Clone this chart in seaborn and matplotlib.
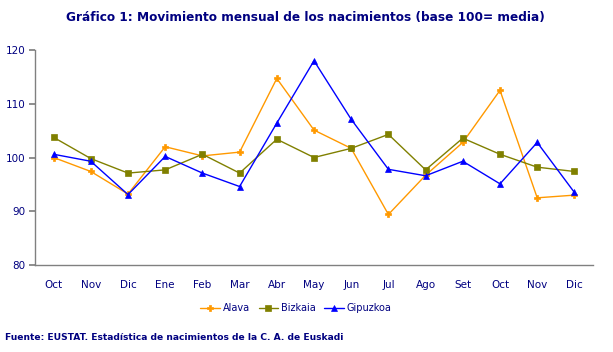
import matplotlib
matplotlib.use("Agg")
import matplotlib.pyplot as plt
import seaborn as sns
import pandas as pd

months = ["Oct", "Nov", "Dic", "Ene", "Feb", "Mar", "Abr", "May", "Jun",
          "Jul", "Ago", "Set", "Oct", "Nov", "Dic"]
alava = [100.0, 97.4, 93.2, 102.0, 100.3, 101.0, 114.7, 105.1, 101.7,
         89.4, 96.7, 102.8, 112.5, 92.5, 93.0]
bizkaia = [103.75, 99.8, 97.1, 97.7, 100.6, 97.1, 103.4, 100.0, 101.7,
           104.3, 97.7, 103.6, 100.6, 98.2, 97.4]
gipuzkoa = [100.6, 99.3, 93.1, 100.2, 97.1, 94.6, 106.4, 118.0, 107.1,
            97.8, 96.6, 99.3, 95.1, 102.8, 93.5]
series_names = ["Alava", "Bizkaia", "Gipuzkoa"]
yticks = [80, 90, 100, 110, 120]

rows = []
for name, vals in zip(series_names, [alava, bizkaia, gipuzkoa]):
    for i, v in enumerate(vals):
        rows.append({"pos": i, "valor": v, "serie": name})
df = pd.DataFrame(rows)

sns.set_theme(style="white")
plt.rcParams['font.family'] = ['DejaVu Sans']

navy = "#000080"
palette = {"Alava": "#FF9900", "Bizkaia": "#808000", "Gipuzkoa": "#0000FF"}
markers = {"Alava": "P", "Bizkaia": "s", "Gipuzkoa": "^"}

fig = plt.figure(figsize=(6.13, 3.52), dpi=100)
ax = fig.add_axes([35/613, 1-265/352, (593-35)/613, (265-50)/352])

sns.lineplot(data=df, x="pos", y="valor", hue="serie", style="serie",
             palette=palette, markers=markers, dashes=False, ax=ax,
             linewidth=1.0, markersize=5, markeredgewidth=0.5)
for line in ax.lines:
    line.set_markeredgecolor(line.get_color())

ax.set_xlim(-0.5, len(months) - 0.5)
ax.set_ylim(80, 120)
ax.set_xticks(range(len(months)))
ax.set_xticklabels(months)
ax.set_yticks(yticks)
ax.set_xlabel("")
ax.set_ylabel("")
for s in ["top", "right"]:
    ax.spines[s].set_visible(False)
for s in ["left", "bottom"]:
    ax.spines[s].set_color("#808080")
    ax.spines[s].set_linewidth(1.0)
ax.tick_params(axis="y", left=True, length=4, color="#808080",
               labelsize=7.5, labelcolor=navy, pad=3)
ax.tick_params(axis="x", bottom=False, labelsize=7.5, labelcolor=navy, pad=5)

leg = ax.legend(loc="center", bbox_to_anchor=(296/613, 1-308/352),
                bbox_transform=fig.transFigure, ncol=3, frameon=False,
                fontsize=7, handlelength=2.0, columnspacing=0.9,
                handletextpad=0.3, markerscale=0.8)
for t in leg.get_texts():
    t.set_color(navy)

fig.text(305/613, 1-17/352, "Gráfico 1: Movimiento mensual de los nacimientos (base 100= media)",
         ha="center", va="center", fontsize=8.7, fontweight="bold", color=navy)
fig.text(5/613, 1-337/352, "Fuente: EUSTAT. Estadística de nacimientos de la C. A. de Euskadi",
         ha="left", va="center", fontsize=6.6, fontweight="bold", color=navy)

fig.savefig("out.png", dpi=100)
